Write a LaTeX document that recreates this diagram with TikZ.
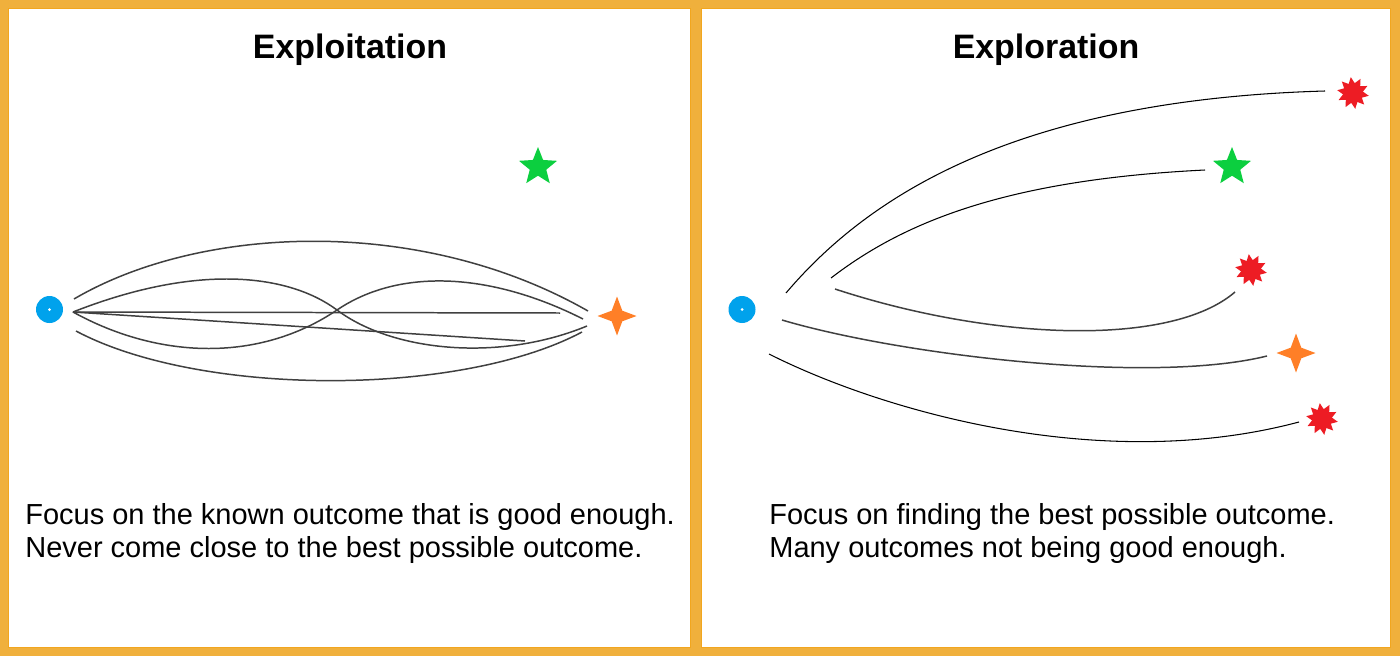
\documentclass[tikz,border=0pt]{standalone}
\usepackage{fontspec}
\setmainfont{Liberation Sans}
\usetikzlibrary{shapes.geometric}
\definecolor{framec}{HTML}{F0B03C}
\definecolor{frameedge}{HTML}{F2A61E}
\definecolor{dotblue}{HTML}{00A2EC}
\definecolor{stargreen}{HTML}{0CCF3F}
\definecolor{starorange}{HTML}{FF7F27}
\definecolor{burstred}{HTML}{ED1C24}
\definecolor{pathgray}{HTML}{404040}
\tikzset{
  origin/.style={circle,fill=dotblue,minimum size=0.54cm,inner sep=0pt},
  origindot/.style={circle,fill=white,minimum size=0.06cm,inner sep=0pt},
  greenstar/.style={star,star points=5,star point ratio=2.3,fill=stargreen,minimum size=0.8cm,inner sep=0pt},
  orangestar/.style={star,star points=4,star point ratio=2.6,fill=starorange,minimum size=0.78cm,inner sep=0pt},
  redburst/.style={star,star points=10,star point ratio=1.6,fill=burstred,minimum size=0.64cm,inner sep=0pt,rotate=8},
  trail/.style={draw=pathgray,line width=0.85pt},
  thintrail/.style={draw=black,line width=0.6pt},
  titletext/.style={font=\fontsize{19.3}{23}\selectfont\bfseries,inner sep=0pt},
  bodytext/.style={font=\fontsize{16.5}{18.7}\selectfont,inner sep=0pt,anchor=base west}
}
\begin{document}
\begin{tikzpicture}[x=0.02cm,y=-0.02cm]
\useasboundingbox (0,0) rectangle (1400,656);
% frame
\fill[framec] (0,0) rectangle (1400,656);
\fill[white] (8,8) rectangle (690,647);
\fill[white] (701,8) rectangle (1390,647);
\draw[frameedge,line width=0.4pt] (8,8) rectangle (690,647);
\draw[frameedge,line width=0.4pt] (701,8) rectangle (1390,647);

% titles
\node[titletext] (t1) at (350,50) {Exploitation};
\node[titletext] (t2) at (1046,50) {Exploration};

% ---------- left panel ----------
\node[origin] (o1) at (49.5,309.5) {};
\node[origindot] (o1d) at (49.5,309.5) {};
\node[greenstar] (g1) at (538,167) {};
\node[orangestar] (s1) at (617,316) {};

\coordinate (a0) at (74,299);
\coordinate (a1) at (588,311);
\coordinate (b0) at (76,331);
\coordinate (b1) at (582,332);
\coordinate (c0) at (73,312);
\coordinate (cx) at (337,310);
\coordinate (c1) at (587,326);
\coordinate (d1) at (583,319);
\coordinate (e1) at (560,313);
\coordinate (f1) at (525,341);

\draw[trail] (a0) .. controls (200,225) and (420,215) .. (a1);
\draw[trail] (b0) .. controls (200,397) and (460,397) .. (b1);
\draw[trail] (c0) .. controls (200,262) and (290,275) .. (cx)
                  .. controls (393,352) and (500,362) .. (c1);
\draw[trail] (c0) .. controls (160,360) and (260,362) .. (cx)
                  .. controls (399,268) and (490,272) .. (d1);
\draw[trail] (c0) -- (e1);
\draw[trail] (c0) -- (f1);

\node[bodytext] (l1) at (25,524) {Focus on the known outcome that is good enough.};
\node[bodytext] (l2) at (25,557) {Never come close to the best possible outcome.};

% ---------- right panel ----------
\node[origin] (o2) at (742,309.5) {};
\node[origindot] (o2d) at (742,309.5) {};
\node[redburst] (r1) at (1353,93) {};
\node[greenstar] (g2) at (1232,167) {};
\node[redburst] (r2) at (1251,270) {};
\node[orangestar] (s2) at (1296,353) {};
\node[redburst] (r3) at (1322,419) {};

\coordinate (p1a) at (786,293);
\coordinate (p1b) at (1325,91);
\coordinate (p2a) at (831,278);
\coordinate (p2b) at (1205,170);
\coordinate (p3a) at (835,289);
\coordinate (p3b) at (1235,292);
\coordinate (p4a) at (782,320);
\coordinate (p4b) at (1267,356);
\coordinate (p5a) at (769,354);
\coordinate (p5b) at (1299,422);

\draw[thintrail] (p1a) .. controls (865,200) and (1010,100) .. (p1b);
\draw[thintrail] (p2a) .. controls (900,225) and (1000,180) .. (p2b);
\draw[trail] (p3a) .. controls (990,340) and (1170,348) .. (p3b);
\draw[trail] (p4a) .. controls (900,355) and (1150,385) .. (p4b);
\draw[thintrail] (p5a) .. controls (880,410) and (1100,475) .. (p5b);

\node[bodytext] (r1l) at (769,524) {Focus on finding the best possible outcome.};
\node[bodytext] (r2l) at (769,557) {Many outcomes not being good enough.};
\end{tikzpicture}
\end{document}
